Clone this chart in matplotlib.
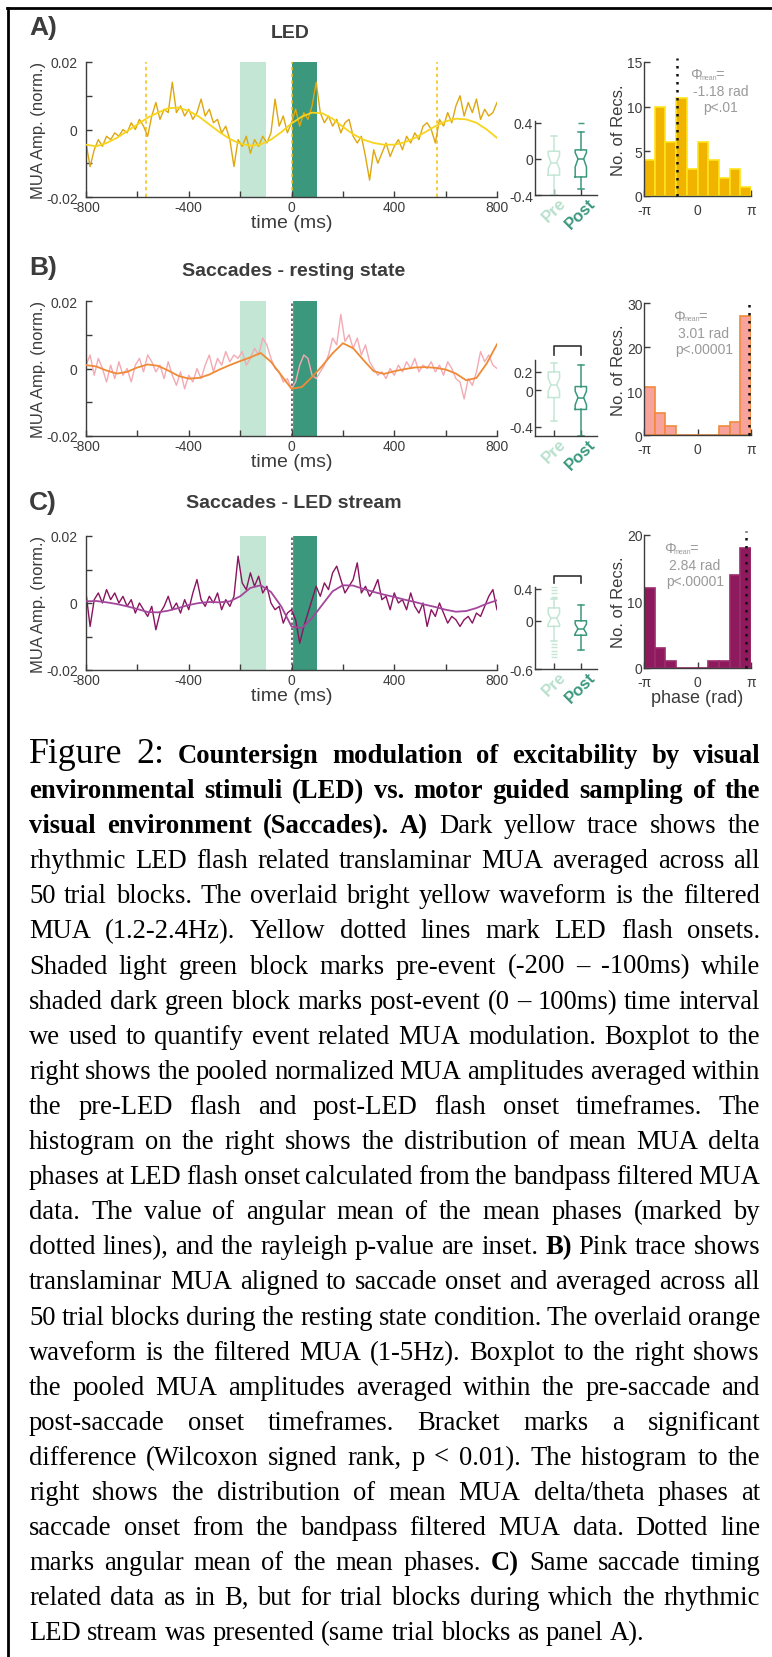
import numpy as np
import matplotlib
matplotlib.use("Agg")
import matplotlib.pyplot as plt
from matplotlib.lines import Line2D
from matplotlib.font_manager import FontProperties

# ---------------- data ----------------
W, H = 772, 1658

# raw traces, 101 samples from -800 to 800 ms (values in 1e-3 norm. units)
led_raw = [-4, -11, -6, -3, -5, -2, -3, -1, -2, 0, -1, 2, 0, 3, 1, -2, 4, 8, 3, 6,
           5, 14, 5, 7, 4, 6, 3, 5, 9, 4, 6, 2, 3, -1, 1, -3, -11, -3, -5, -2,
           -7, -3, -5, -2, -4, -1, 9, 1, 4, -1, 2, 6, 1, 5, 3, 7, 14, 5, 2, 4,
           1, 3, -1, 2, 3, -2, -4, -2, -8, -15, -6, -10, -7, -4, -8, -5, -3, -6, -2, -4,
           -1, -3, 1, 2, 0, -4, 3, 1, 5, 2, 7, 10, 4, 8, 5, 9, 3, 6, 4, 5, 8]
rest_raw = [1, 4, -2, 3, 0, -4, 1, -3, 2, -2, 0, -4, 1, 3, -1, 4, 2, -1, 1, -3,
            2, -2, -5, -1, -6, -2, -4, 0, -3, 1, 4, -1, 3, 1, 5, 2, 4, 3, 5, 1,
            3, 6, 4, 9, 7, 3, 0, -1, -4, -3, -6, -4, 1, 4, 3, -2, -3, -1, 1, 4,
            9, 7, 16, 8, 10, 6, 9, 4, 7, 2, 0, -2, -1, -3, 0, -2, 1, -1, 2, 0,
            3, -1, 1, 0, 2, -1, 1, -2, 2, 0, -3, -4, -9, -3, -5, -1, 5, 2, 4, 1, 0]
stream_raw = [3, -7, 1, 3, 0, 4, 1, 3, 0, 2, -1, 1, -3, 0, -2, -4, -1, -8, -3, -1,
              2, -2, 0, -3, 1, -2, 3, 7, 1, -1, 2, 0, 3, -2, 1, -1, 2, 14, 6, 4,
              9, 5, 8, 3, 5, 0, -2, -1, -6, -3, -2, -5, -12, -7, -3, 1, 5, 2, 6, 4,
              9, 11, 7, 3, 5, 7, 12, 3, 5, 2, 4, 7, 1, 2, -2, 3, 0, 1, -2, 3,
              -1, -3, 0, -7, -2, -4, 0, -3, -6, -4, -5, -7, -5, -4, -6, -3, -4, -1, 2, 4, -2]

# filtered traces, 41 samples from -800 to 800 ms
led_filt = [-4.5, -5, -4, -2.5, -0.5, 1.5, 3.5, 5, 6.3, 6.5, 5.5, 3.8, 1.5, -0.8, -2.8,
            -4.2, -4.8, -4.4, -3, -0.8, 1.8, 3.8, 5, 4.8, 3.2, 0.8, -1.4, -3, -4, -4.5,
            -4.5, -3.8, -2.5, -0.8, 1, 2.4, 3.2, 3, 2, 0, -2.5]
rest_filt = [1, 0.6, -0.6, -1.5, -1, 0.3, 1.2, 0.8, -0.6, -2.2, -3, -2.8, -1.8, -0.3, 1,
             2.2, 3.3, 4.6, 2, -2, -6, -5.5, -2.5, 0.8, 4.5, 7.5, 6, 2.5, -0.8, -1.6,
             -0.8, -0.2, 0.3, 0.4, 0.2, -0.3, -1.5, -3.5, -2.8, 1.5, 7.2]
stream_filt = [0.5, 0.6, 0.2, -0.3, -1, -1.8, -2.7, -2.8, -2.3, -1.5, -0.6, 0, 0.3, 0.2, 0.5,
               2, 4.5, 5.3, 3.3, -1, -7, -7.5, -4.5, -0.5, 3.5, 5.3, 5.2, 4.2, 3.3, 2.5,
               1.8, 1, 0.3, -0.5, -1.2, -2, -2.6, -2.4, -1.5, -0.2, 0.8]

led_onsets = [-566, 0, 566]

# boxplots: [whislo, q1, med, q3, whishi], notch [lo, hi]
led_pre_box, led_pre_notch = [-0.40, -0.18, -0.04, 0.085, 0.25], [-0.11, 0.04]
led_post_box, led_post_notch = [-0.33, -0.20, 0.0, 0.10, 0.30], [-0.09, 0.07]
led_post_fliers = [0.40]
rest_pre_box, rest_pre_notch = [-0.34, -0.08, 0.06, 0.20, 0.30], [-0.01, 0.13]
rest_post_box, rest_post_notch = [-0.50, -0.21, -0.08, 0.04, 0.27], [-0.16, -0.01]
stream_pre_box, stream_pre_notch = [-0.25, -0.07, 0.03, 0.16, 0.27], [-0.04, 0.09]
stream_pre_fliers = [0.30, 0.34, 0.38, 0.42, -0.29, -0.33, -0.37, -0.41, -0.45]
stream_post_box, stream_post_notch = [-0.36, -0.18, -0.10, 0.0, 0.19], [-0.16, -0.04]

# phase histograms (10 bins, -pi..pi)
led_counts = [4, 10, 6, 11, 3, 6, 4, 2, 3, 1]
rest_counts = [11, 5, 2, 0, 0, 0, 0, 2, 3, 27]
stream_counts = [12, 3, 1, 0, 0, 0, 1, 1, 14, 18]
led_mean, rest_mean, stream_mean = -1.18, 3.01, 2.84

# ---------------- styling ----------------
plt.rcParams['font.family'] = 'Liberation Sans'
DARK = '#3c3c3c'
PRE_COL = '#c4e6d4'
POST_COL = '#3b987d'
PRE_TXT = '#b8e0cc'

t_raw = np.linspace(-800, 800, len(led_raw))
t_filt = np.linspace(-800, 800, len(led_filt))

fig = plt.figure(figsize=(W / 100, H / 100), dpi=100)


def rect(x0, y0, x1, y1):
    return [x0 / W, 1 - y1 / H, (x1 - x0) / W, (y1 - y0) / H]


def put(x, y, s, **kw):
    return fig.text(x / W, 1 - y / H, s, **kw)


def style_axes(ax):
    for s in ['top', 'right']:
        ax.spines[s].set_visible(False)
    for s in ['left', 'bottom']:
        ax.spines[s].set_color(DARK)
        ax.spines[s].set_linewidth(1)
    ax.tick_params(direction='in', length=4, width=1, colors=DARK, labelsize=10)


def trace_panel(box, raw, filt, raw_col, filt_col, led=False):
    ax = fig.add_axes(rect(*box))
    style_axes(ax)
    ax.axvspan(-200, -100, color=PRE_COL, lw=0, zorder=0)
    ax.axvspan(0, 100, color=POST_COL, lw=0, zorder=0)
    if led:
        for x in led_onsets:
            ax.axvline(x, color='#f5c518', lw=1.2, ls=(0, (2, 2)), zorder=1)
    else:
        ax.axvline(0, color='white', lw=1.6, zorder=1)
        ax.axvline(0, color='#555555', lw=1.2, ls=(0, (1.5, 1.5)), zorder=1)
    ax.plot(t_raw, np.array(raw) * 1e-3, color=raw_col, lw=1.0, zorder=2)
    ax.plot(t_filt, np.array(filt) * 1e-3, color=filt_col, lw=1.3, zorder=3)
    ax.set_xlim(-800, 800)
    ax.set_ylim(-0.02, 0.02)
    ax.set_xticks(np.arange(-800, 801, 200),
                  ['-800', '', '-400', '', '0', '', '400', '', '800'])
    ax.set_yticks([-0.02, -0.01, 0, 0.01, 0.02], ['-0.02', '', '0', '', '0.02'])
    ax.tick_params(axis='y', pad=6)
    ax.tick_params(axis='x', pad=2)
    ax.set_ylabel('MUA Amp. (norm.)', fontsize=12, color=DARK)
    ax.yaxis.set_label_coords(-0.097, 0.5)
    ax.set_xlabel('time (ms)', fontsize=14, color=DARK)
    ax.xaxis.set_label_coords(0.5, -0.126)
    return ax


def box_panel(box, pre, pre_notch, post, post_notch, ylim, yticks,
              pre_fliers=(), post_fliers=(), bracket=None):
    ax = fig.add_axes(rect(*box))
    style_axes(ax)
    stats = []
    for vals, notch, fl in [(pre, pre_notch, pre_fliers), (post, post_notch, post_fliers)]:
        stats.append(dict(whislo=vals[0], q1=vals[1], med=vals[2], q3=vals[3],
                          whishi=vals[4], cilo=notch[0], cihi=notch[1],
                          fliers=list(fl)))
    res = ax.bxp(stats, positions=[1, 2], widths=0.42, capwidths=0.2,
                 shownotches=True, showfliers=True,
                 flierprops=dict(marker='_', markersize=5, markeredgewidth=1))
    for i, col in enumerate([PRE_COL, POST_COL]):
        res['boxes'][i].set_color(col)
        res['medians'][i].set_color(col)
        res['fliers'][i].set_markeredgecolor(col)
        for art in res['whiskers'][2 * i:2 * i + 2] + res['caps'][2 * i:2 * i + 2]:
            art.set_color(col)
    for art in res['boxes'] + res['medians'] + res['whiskers'] + res['caps']:
        art.set_linewidth(1.1)
    if bracket:
        ax.plot([1, 1, 2, 2], [bracket[0], bracket[1], bracket[1], bracket[0]],
                color='#333333', lw=1.2, clip_on=False)
    ax.set_xlim(0.3, 2.6)
    ax.set_ylim(*ylim)
    ax.set_yticks(yticks, [('%g' % v) for v in yticks])
    ax.tick_params(axis='y', pad=1.5)
    ax.set_xticks([1, 2])
    ax.set_xticklabels(['Pre', 'Post'], rotation=45, ha='center', va='top',
                       fontsize=12, fontweight='bold')
    ax.tick_params(axis='x', pad=0)
    lbls = ax.get_xticklabels()
    lbls[0].set_color(PRE_TXT)
    lbls[1].set_color(POST_COL)
    return ax


def hist_panel(box, counts, mean, ymax, yticks, fill, edge, xlabel=False):
    ax = fig.add_axes(rect(*box))
    style_axes(ax)
    edges = np.linspace(-np.pi, np.pi, len(counts) + 1)
    ax.bar(edges[:-1], counts, width=edges[1] - edges[0], align='edge',
           color=fill, edgecolor=edge, linewidth=1.2, zorder=2)
    ax.axvline(mean, ymax=1.03, color='#111111', lw=1.8, ls=(0, (1, 2.2)),
               clip_on=False, zorder=3)
    ax.set_xlim(-np.pi, np.pi)
    ax.set_ylim(0, ymax)
    ax.set_yticks(yticks, [str(v) for v in yticks])
    ax.set_xticks([-np.pi, 0, np.pi], ['-π', '0', 'π'])
    ax.tick_params(axis='y', pad=1)
    ax.tick_params(axis='x', pad=5)
    ax.set_ylabel('No. of Recs.', fontsize=12, color=DARK)
    ax.yaxis.set_label_coords(-0.17, 0.5)
    if xlabel:
        ax.set_xlabel('phase (rad)', fontsize=13, color=DARK)
        ax.xaxis.set_label_coords(0.5, -0.16)
    return ax


def phase_note(x, y, value, pval, cx):
    g = '#9a9a9a'
    put(x, y, 'Φ', fontsize=10.5, color=g, ha='left', va='center')
    put(x + 10, y + 3, 'mean', fontsize=5, color=g, ha='left', va='center')
    put(x + 25, y, '=', fontsize=10.5, color=g, ha='left', va='center')
    put(cx, y + 17, value, fontsize=10, color=g, ha='center', va='center')
    put(cx, y + 33, pval, fontsize=10, color=g, ha='center', va='center')


# ---------------- panels ----------------
trace_panel((86, 63, 497, 198), led_raw, led_filt, '#dea70e', '#f7d41e', led=True)
trace_panel((86, 302, 497, 437), rest_raw, rest_filt, '#f3aab3', '#ef8a36')
trace_panel((86, 537, 497, 671), stream_raw, stream_filt, '#8a1460', '#a3479c')

box_panel((535, 122, 597, 196), led_pre_box, led_pre_notch, led_post_box, led_post_notch,
          (-0.4, 0.42), [-0.4, 0, 0.4], post_fliers=led_post_fliers)
box_panel((535, 361, 597, 437), rest_pre_box, rest_pre_notch, rest_post_box, rest_post_notch,
          (-0.5, 0.33), [-0.4, 0, 0.2], bracket=(0.39, 0.48))
box_panel((535, 588, 597, 670), stream_pre_box, stream_pre_notch, stream_post_box,
          stream_post_notch, (-0.6, 0.42), [-0.6, 0, 0.4],
          pre_fliers=stream_pre_fliers, bracket=(0.47, 0.56))

hist_panel((644, 63, 751, 197), led_counts, led_mean, 15, [0, 5, 10, 15], '#f0b400', '#ffe41a')
hist_panel((644, 304, 751, 436), rest_counts, rest_mean, 30, [0, 10, 20, 30], '#f7a39b', '#f08a3c')
hist_panel((644, 536, 751, 669), stream_counts, stream_mean, 20, [0, 10, 20], '#8c1a5c', '#9c2b6c',
           xlabel=True)

phase_note(690, 75, '-1.18 rad', 'p<.01', 721)
phase_note(673, 317, '3.01 rad', 'p<.00001', 704)
phase_note(664, 549, '2.84 rad', 'p<.00001', 695)

for (x, y, s) in [(290, 33, 'LED'), (294, 272, 'Saccades - resting state'),
                  (294, 503, 'Saccades - LED stream')]:
    put(x, y, s, fontsize=14, fontweight='bold', color=DARK, ha='center', va='center')
for (y, s) in [(28, 'A)'), (268, 'B)'), (503, 'C)')]:
    put(29, y, s, fontsize=19, fontweight='bold', color=DARK, ha='left', va='center')

# frame (top and left only)
fig.add_artist(Line2D([7 / W, 1], [1 - 9 / H, 1 - 9 / H], transform=fig.transFigure,
                      color='black', lw=2))
fig.add_artist(Line2D([8 / W, 8 / W], [1 - 9 / H, 0], transform=fig.transFigure,
                      color='black', lw=2))

# ---------------- caption (justified) ----------------
caption_lines = [
    [("Figure 2:", "h"), ("Countersign modulation of excitability by visual", "b")],
    [("environmental stimuli (LED) vs. motor guided sampling of the", "b")],
    [("visual environment (Saccades). A)", "b"), ("Dark yellow trace shows the", "r")],
    [("rhythmic LED flash related translaminar MUA averaged across all", "r")],
    [("50 trial blocks. The overlaid bright yellow waveform is the filtered", "r")],
    [("MUA (1.2-2.4Hz). Yellow dotted lines mark LED flash onsets.", "r")],
    [("Shaded light green block marks pre-event (-200 – -100ms) while", "r")],
    [("shaded dark green block marks post-event (0 – 100ms) time interval", "r")],
    [("we used to quantify event related MUA modulation. Boxplot to the", "r")],
    [("right shows the pooled normalized MUA amplitudes averaged within", "r")],
    [("the pre-LED flash and post-LED flash onset timeframes. The", "r")],
    [("histogram on the right shows the distribution of mean MUA delta", "r")],
    [("phases at LED flash onset calculated from the bandpass filtered MUA", "r")],
    [("data. The value of angular mean of the mean phases (marked by", "r")],
    [("dotted lines), and the rayleigh p-value are inset.", "r"), ("B)", "b"),
     ("Pink trace shows", "r")],
    [("translaminar MUA aligned to saccade onset and averaged across all", "r")],
    [("50 trial blocks during the resting state condition. The overlaid orange", "r")],
    [("waveform is the filtered MUA (1-5Hz). Boxplot to the right shows", "r")],
    [("the pooled MUA amplitudes averaged within the pre-saccade and", "r")],
    [("post-saccade onset timeframes. Bracket marks a significant", "r")],
    [("difference (Wilcoxon signed rank, p < 0.01). The histogram to the", "r")],
    [("right shows the distribution of mean MUA delta/theta phases at", "r")],
    [("saccade onset from the bandpass filtered MUA data. Dotted line", "r")],
    [("marks angular mean of the mean phases.", "r"), ("C)", "b"), ("Same saccade timing", "r")],
    [("related data as in B, but for trial blocks during which the rhythmic", "r")],
    [("LED stream was presented (same trial blocks as panel A).", "r")],
]

renderer = fig.canvas.get_renderer()


def width_of(s, fp):
    return renderer.get_text_width_height_descent(s, fp, ismath=False)[0]


ref = FontProperties(family='Liberation Serif', size=13.5)
body = 13.5 * 616 / width_of(caption_lines[-1][0][0], ref)
fonts = {'r': FontProperties(family='Liberation Serif', size=body),
         'b': FontProperties(family='Liberation Serif', size=body, weight='bold'),
         'h': FontProperties(family='Liberation Serif', size=body * 1.35)}
space = width_of('a a', fonts['r']) - width_of('aa', fonts['r'])

left, right = 29, 760
for i, line in enumerate(caption_lines):
    words = [(w, st) for seg, st in line for w in seg.split()]
    widths = [width_of(w, fonts[st]) for w, st in words]
    last = i == len(caption_lines) - 1
    gap = space if last else (right - left - sum(widths)) / (len(words) - 1)
    y = 763 + i * 35.1
    x = left
    for (w, st), wd in zip(words, widths):
        put(x, y, w, fontproperties=fonts[st], color='black', ha='left', va='baseline')
        x += wd + gap

fig.savefig('out.png', dpi=100)
